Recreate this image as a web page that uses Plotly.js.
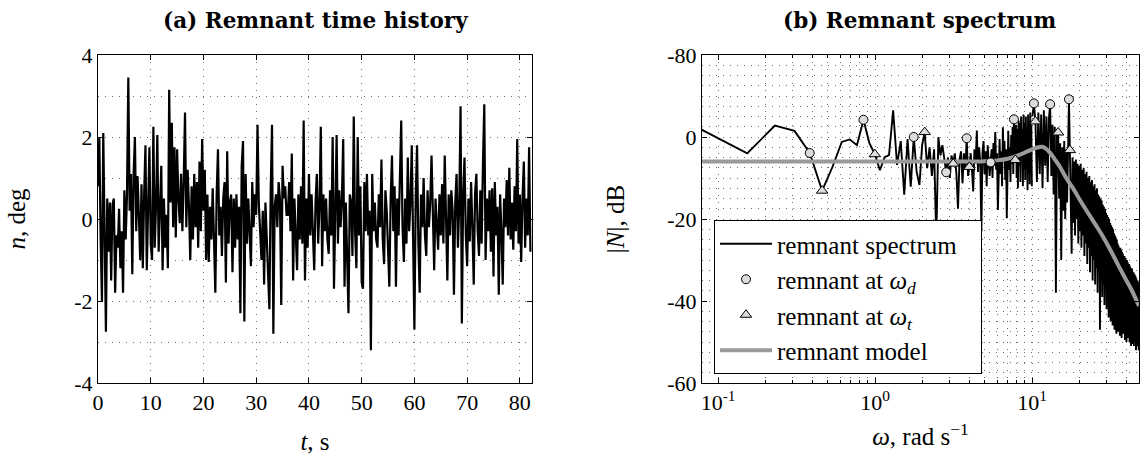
<!DOCTYPE html>
<html><head><meta charset="utf-8">
<script src="https://cdn.plot.ly/plotly-3.0.1.min.js"></script>
<style>html,body{margin:0;padding:0;background:#fff}#chart{width:1141px;height:464px}</style>
</head><body><div id="chart"></div>
<script>
// ---------- (a) remnant time history, sampled every 0.25 s ----------
const timeStep = 0.25;
const remnantTime = [
0.8, 2.0, -0.5, -2.0, 2.1, -1.0, -2.75, 0.5, -0.8, 0.4,
-1.5, 0.35, 0.5, -1.8, -0.4, -0.7, 0.25, -1.2, -0.3, -1.8,
0.7, -0.5, 0.6, 3.45, 0.2, 1.1, -1.35, 1.1, 2.0, -0.3,
1.05, 0.1, -1.0, 0.85, -1.2, 0.6, 1.8, -1.25, 0.5, 1.75,
-0.6, -1.0, 2.25, -0.7, 0.3, 2.05, -0.8, 0.6, 1.3, -1.25,
0.5, -0.7, 0.1, -1.2, 3.15, 0.4, 2.35, -0.2, 1.75, -0.45,
1.7, 0.5, -0.1, 1.1, -0.3, 0.9, 2.6, -0.2, 1.2, 0.3,
-1.0, 0.8, -0.5, 1.1, -0.2, 0.9, -0.7, 1.4, -0.3, 1.95,
0.2, 1.2, -1.0, 0.6, -1.05, 0.3, -0.5, 0.75, -0.55, -1.8,
0.6, 1.7, -0.4, 0.3, -0.9, 0.5, 0.9, -1.55, 1.65, -0.6,
0.4, 0.6, -1.3, 0.5, -0.7, 0.6, -0.5, 0.3, -2.3, 1.3,
1.9, -2.5, 1.1, -0.6, 0.5, -0.3, -1.15, 0.9, -0.2, 0.6,
0.1, 2.3, 0.35, -0.3, -1.0, 0.2, -1.6, 0.4, -0.6, -1.7,
-2.2, 0.7, 2.3, -2.8, 0.3, 0.6, -0.2, 0.9, 0.5, -2.1,
1.3, 0.5, 0.8, 0.1,
0.1, 0.9, -0.3, 1.6,  -1.5, 0.5, -0.4, -1.25,  0.6, -0.5, 0.8, -0.6,
2.4, -1.5, 0.5, -0.7,  1.1, -0.4, 0.6, -0.3,  -1.25, 0.4, 1.1, -0.6,
0.3, 2.25, -1.15, 0.6,  -0.3, 0.5, -0.5, -0.85,  0.7, -0.4, 2.0, -1.7,
0.6, 2.05, -0.6, 0.7,  -0.2, 0.5, 1.95, -1.65,  0.4, -0.7, -2.3, 0.6,
0.4, -0.9, 2.5, -0.3,  -1.2, 2.0, -0.4, 0.8,  -1.55, -1.7, 0.9, -0.3,
1.1, -0.4, 0.2, -3.2,  1.1, -0.3, 0.4, -0.5,  -0.7, 0.6, -0.2, 1.45,
-0.5, -1.1, 0.7, 0.2,  -0.6, -1.65, 0.5, 1.55,  -0.3, 0.8, -1.65, 0.5,
-0.4, 0.9, 2.4, -0.2,  -1.05, 0.5, -0.6, 1.5,  -0.3, 0.4, 1.8, -0.5,
-2.7, 0.5, 1.8, -0.6,  -1.8, 0.6, -0.2, 1.0,  -0.4, -0.9, 0.7, -0.2,
0.4, 1.55, -0.3, -1.25,  0.5, -0.2, -0.75, 0.6,  -0.4, 0.85, -0.6, 1.55,
0.2, -1.5, 0.6, -0.4,  0.7, 0.2, -1.85, 0.4,  1.1, -0.7, 0.3, 2.75,
-2.55, 0.6, 1.5, -0.4,  -1.15, 0.5, -0.55, 0.9,  -0.2, -1.6, 0.6, 1.1,
-0.3, -0.9, 0.7, -0.6,  1.35, 2.8, -1.0, 0.5,  -0.3, 0.7, -0.8, 0.75,
-1.4, 0.9, -0.4, 0.3,  -1.85, 0.6, -0.3, -1.6,  0.5, -0.2, 0.95, -0.4,
1.25, -0.5, 0.4, -0.75,  0.8, -0.3, 1.95, -0.6,  0.6, -1.05, 0.5, 1.4,
-0.7, 0.5, -0.4, 1.75,  -0.8
];

// ---------- (b) remnant spectrum ----------
// harmonics k*w0 (w0 = 2*pi/81.92 rad/s), k = 1..130, in dB
const harmonicBase = 0.076699;
const spectrumLow = [
2.0, -4.0, 2.8, 1.5, -3.9, -13.1, -7.2, -1.2, -0.6, -2.0,
4.2, -1.5, -4.2, -8.1, -4.9, -4.4, 6.5, -6.8, -1.0, -14.1,
-0.5, -12.1, 0.0, -8.5, -11.7, -2.0, 1.2, -7.6, -2.5, -9.5,
-3.0, -25.0, 0.0, -4.5, -2.0, -6.0, -8.6, -5.0, -10.0, -4.5,
-6.5, -4.0, -9.0, -17.5, -5.5, -3.5, -11.3, -4.0, -8.0, -0.3,
-9.5, -7.3, -4.0, -8.0, -13.3, -3.0, -6.5, 1.6, -8.5, -2.5,
-6.0, -23.0, -4.0, -1.0, -9.0, -3.5, -12.0, -2.0, -5.0, -9.5,
-6.2, -3.0, -10.0, -1.5, -7.0, 1.2, -8.0, -4.0, -17.8, -3.0,
-0.5, -9.0, -3.5, -12.0, 2.4, -5.0, -1.0, -10.5, -3.0, -19.8,
-2.0, 1.5, -8.0, -2.5, -11.0, 0.5, -6.5, 2.5, -9.0, 4.3,
-4.0, -5.6, 3.0, -10.0, 2.0, -12.5, 4.0, -7.0, 3.5, -11.0,
5.0, -4.0, 2.0, -12.0, 5.5, -8.0, 3.5, -10.5, 5.0, -5.0,
1.0, -13.0, 5.5, -9.0, 4.0, -11.5, 6.0, -6.0, 3.0, -12.0
];
// every third harmonic from k = 131 (10.05 rad/s) up to ~48 rad/s, in dB
const spectrumHighStart = 10.0476;
const spectrumHighStep = 0.230097;
const spectrumHigh = [
5.0, 8.2, 3.8, -11.0, 6.0, -9.0, 5.5, -12.5, 6.5, -7.0,
5.0, -11.0, 4.5, 8.0, -9.5, 3.0, -14.0, 2.5, -38.0, 0.5,
1.1, -15.0, -1.5, -30.0, -2.5, -18.0, -1.0, -20.0, -3.0, -16.0,
-4.0, 9.2, -3.2, -22.0, -28.5, -5.0, -21.0, -6.0, -24.0, -5.5,
-20.0, -6.5, -26.0, -7.0, -23.0, -6.5, -27.0, -8.0, -24.0, -7.5,
-29.0, -9.0, -26.0, -8.5, -31.0, -10.0, -27.0, -9.5, -33.0, -11.0,
-29.0, -10.5, -35.0, -12.0, -30.0, -11.5, -36.0, -13.0, -32.0, -12.5,
-38.0, -14.0, -33.0, -14.5, -47.0, -15.0, -35.0, -15.5, -39.0, -16.5,
-36.0, -17.0, -41.0, -17.5, -37.0, -18.5, -42.0, -19.0, -38.0, -19.5,
-44.0, -20.0, -39.0, -21.0, -45.0, -21.5, -41.0, -22.0, -46.0, -22.5,
-42.0, -23.5, -47.0, -24.0, -43.0, -24.5, -48.0, -25.0, -44.0, -26.0,
-47.5, -26.5, -45.0, -27.0, -48.5, -27.0, -46.0, -27.5, -49.0, -28.0,
-46.5, -28.5, -48.0, -29.0, -47.0, -29.0, -49.5, -29.5, -47.5, -30.0,
-50.0, -30.0, -48.0, -30.5, -49.0, -31.0, -47.5, -31.0, -50.0, -31.5,
-48.5, -32.0, -51.0, -32.0, -49.0, -32.5, -50.5, -33.0, -48.0, -33.0,
-51.0, -33.5, -49.5, -34.0, -50.0, -34.0, -52.0, -34.5, -49.0, -35.0,
-51.0, -35.0, -50.0, -35.5, -52.0, -36.0
];
// remnant at the disturbance / target frequencies
const omegaD = [0.3835, 0.8437, 1.7641, 2.8379, 3.8350, 5.4456, 7.6699, 10.2777, 13.0388, 17.1806];
const magD   = [-3.9, 4.2, 0.0, -8.6, -0.3, -6.2, 4.3, 8.2, 8.0, 9.2];
const omegaT = [0.4602, 0.9971, 2.0709, 3.1447, 3.9884, 7.8233, 10.5078, 14.6495, 17.4107];
const magT   = [-13.1, -4.2, 1.2, -6.5, -7.3, -5.6, 3.8, 1.1, -3.2];
// remnant model
const modelOmega = [0.0767, 1, 3, 5, 6, 7, 8, 9, 10, 11, 11.5, 12, 13, 14, 15, 16.5, 18.5, 20.5, 22.8, 25.5, 28.2, 31.5, 34.8, 38.5, 42.9, 48];
const modelMag   = [-6, -6, -6, -5.9, -5.7, -5.3, -4.6, -3.8, -3.0, -2.5, -2.4, -2.6, -3.8, -5.5, -7.2, -10.0, -12.9, -15.8, -18.6, -21.5, -24.2, -27.5, -30.7, -33.9, -37.2, -41.2];

// ---------- ticks ----------
const timeTicks = [0, 10, 20, 30, 40, 50, 60, 70, 80];
const nTicks = [-4, -2, 0, 2, 4];
const nTickText = ['-4', '-2', '0', '2', '4'];
const freqTicks = [0.1, 1, 10];
const freqTickText = ['10<sup>-1</sup>', '10<sup>0</sup>', '10<sup>1</sup>'];
const dbTicks = [-60, -40, -20, 0, 20];
const dbTickText = ['-60', '-40', '-20', '0', '-80'];

const freqMinor = [];
[0.1, 1, 10].forEach(d => { for (let k = 2; k <= 9; k++) freqMinor.push(k * d); });

const serif = 'Liberation Serif';
const gridCol = '#6e6e6e';
const dots = '1px,6px';

const traces = [
  {x0: 0, dx: timeStep, y: remnantTime, xaxis: 'x', yaxis: 'y', type: 'scatter', mode: 'lines',
   line: {color: '#000', width: 2.2}, showlegend: false, hoverinfo: 'skip'},
  {x0: harmonicBase, dx: harmonicBase, y: spectrumLow, xaxis: 'x2', yaxis: 'y2', type: 'scatter', mode: 'lines',
   line: {color: '#000', width: 1.9}, name: 'remnant spectrum\u00a0\u00a0\u00a0', legendgroup: 'spec', legendrank: 1},
  {x0: spectrumHighStart, dx: spectrumHighStep, y: spectrumHigh, xaxis: 'x2', yaxis: 'y2', type: 'scatter', mode: 'lines',
   line: {color: '#000', width: 1.9}, name: 'remnant spectrum', legendgroup: 'spec', showlegend: false},
  {x: modelOmega, y: modelMag, xaxis: 'x2', yaxis: 'y2', type: 'scatter', mode: 'lines',
   line: {color: '#9a9a9a', width: 4, shape: 'spline'}, name: 'remnant model', legendgroup: 'model', legendrank: 4},
  {x: omegaD, y: magD, xaxis: 'x2', yaxis: 'y2', type: 'scatter', mode: 'markers',
   marker: {symbol: 'circle', size: 9, color: '#dcdcdc', line: {color: '#000', width: 1}},
   name: 'remnant at <i>ω</i><sub><i>d</i></sub>', legendgroup: 'd', legendrank: 2},
  {x: omegaT, y: magT, xaxis: 'x2', yaxis: 'y2', type: 'scatter', mode: 'markers',
   marker: {symbol: 'triangle-up', size: 10, color: '#dcdcdc', line: {color: '#000', width: 1}},
   name: 'remnant at <i>ω</i><sub><i>t</i></sub>', legendgroup: 't', legendrank: 3}
];

const yDom = [1 - 383 / 464, 1 - 55 / 464];
function ax(extra) {
  return Object.assign({
    showline: true, linecolor: '#000', linewidth: 1, mirror: 'ticks', ticks: 'inside', ticklen: 5,
    tickcolor: '#000', zeroline: false, showgrid: true, gridcolor: gridCol, griddash: dots, gridwidth: 1,
    tickfont: {family: serif, size: 22, color: '#000'}, automargin: false
  }, extra);
}

const layout = {
  width: 1141, height: 464, margin: {l: 0, r: 0, t: 0, b: 0},
  paper_bgcolor: '#fff', plot_bgcolor: '#fff',
  font: {family: serif, size: 22, color: '#000'},
  showlegend: true,
  xaxis: ax({domain: [98 / 1141, 532 / 1141], range: [0, 82.3], anchor: 'y',
    tickmode: 'array', tickvals: timeTicks,
    title: {text: '<i>t</i>, s', font: {family: serif, size: 25}, standoff: 18}}),
  yaxis: ax({domain: yDom, range: [-4, 4], anchor: 'x',
    tickmode: 'array', tickvals: nTicks, ticktext: nTickText,
    minor: {dtick: 1, showgrid: true, gridcolor: gridCol, griddash: dots, ticks: ''},
    title: {text: '<i>n</i>, deg', font: {family: serif, size: 25}, standoff: 41}}),
  xaxis2: ax({type: 'log', domain: [702 / 1141, 1139 / 1141],
    range: [Math.log10(0.079), Math.log10(48)], anchor: 'y2',
    tickmode: 'array', tickvals: freqTicks, ticktext: freqTickText,
    minor: {tickmode: 'array', tickvals: freqMinor, ticks: 'inside', ticklen: 3, tickcolor: '#000',
            showgrid: true, gridcolor: gridCol, griddash: dots},
    title: {text: '<i>ω</i>, rad s<sup>−1</sup>', font: {family: serif, size: 25}, standoff: 13}}),
  yaxis2: ax({domain: yDom, range: [-60, 20], anchor: 'x2',
    tickmode: 'array', tickvals: dbTicks, ticktext: dbTickText,
    minor: {dtick: 2.5, showgrid: true, gridcolor: gridCol, griddash: dots, ticks: ''},
    title: {text: '|<i>N</i>|, dB', font: {family: serif, size: 25}, standoff: 35}}),
  legend: {x: 714 / 1141, y: 1 - 220 / 464, xanchor: 'left', yanchor: 'top', bgcolor: '#fff',
    bordercolor: '#000', borderwidth: 1, font: {family: serif, size: 25, color: '#000'},
    itemwidth: 52, traceorder: 'grouped', tracegroupgap: 0},
  annotations: [
    {text: '<b>(a) Remnant time history</b>', xref: 'paper', yref: 'paper', x: 315 / 1141, y: 1 - 20 / 464,
     xanchor: 'center', yanchor: 'middle', showarrow: false, font: {family: 'DejaVu Serif', size: 21.5, color: '#000'}},
    {text: '<b>(b) Remnant spectrum</b>', xref: 'paper', yref: 'paper', x: 920 / 1141, y: 1 - 20 / 464,
     xanchor: 'center', yanchor: 'middle', showarrow: false, font: {family: 'DejaVu Serif', size: 21.5, color: '#000'}}
  ]
};

Plotly.newPlot('chart', traces, layout, {staticPlot: true, displayModeBar: false});
</script>
</body></html>
